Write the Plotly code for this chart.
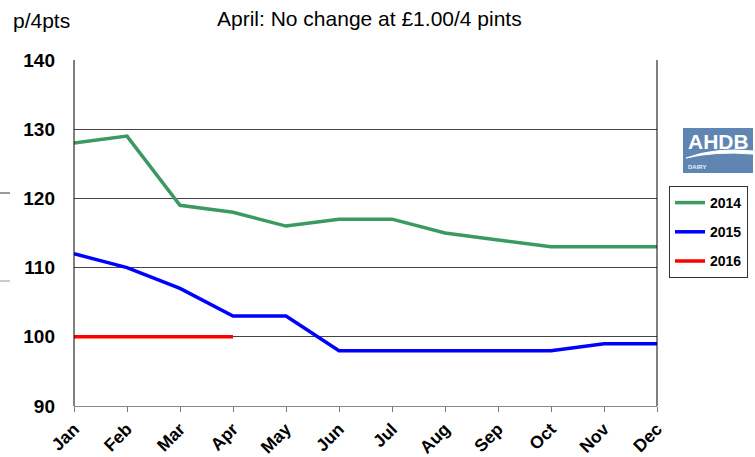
import plotly.graph_objects as go

months = ["Jan", "Feb", "Mar", "Apr", "May", "Jun", "Jul", "Aug", "Sep", "Oct", "Nov", "Dec"]
y2014 = [128, 129, 119, 118, 116, 117, 117, 115, 114, 113, 113, 113]
y2015 = [112, 110, 107, 103, 103, 98, 98, 98, 98, 98, 99, 99]
y2016 = [100, 100, 100, 100]
y_ticks = [90, 100, 110, 120, 130, 140]

FONT = "Liberation Sans, Arial"
W, H = 755, 457
L, R, T, B = 74, 98, 60, 51
PW, PH = W - L - R, H - T - B


def px(x):
    return (x - L) / PW


def py(y):
    return (H - B - y) / PH


fig = go.Figure()
series = [("2014", y2014, "#3a9a62"), ("2015", y2015, "#0000ff"), ("2016", y2016, "#ff0000")]
for name, vals, col in series:
    fig.add_trace(go.Scatter(x=months[:len(vals)], y=vals, mode="lines", name=name,
                             legendgroup=name,
                             line=dict(color=col, width=3.5)))

fig.update_layout(
    width=W, height=H,
    margin=dict(l=L, r=R, t=T, b=B, autoexpand=False),
    plot_bgcolor="white", paper_bgcolor="white",
    font=dict(family=FONT, color="black"),
    showlegend=True,
    legend=dict(x=px(669), y=py(186), xanchor="left", yanchor="top",
                bordercolor="#333", borderwidth=1, bgcolor="white",
                font=dict(size=14, family=FONT, color="black", weight="bold"),
                tracegroupgap=8, itemwidth=30),
    xaxis=dict(type="category", range=[0, 11], tickangle=-45,
               tickfont=dict(size=17.5, family=FONT, weight="bold"),
               ticks="outside", ticklen=5, tickcolor="#777", tickwidth=1,
               showline=True, linecolor="#888", linewidth=1,
               showgrid=False, zeroline=False),
    yaxis=dict(range=[90, 140], tickvals=y_ticks,
               tickfont=dict(size=19, family=FONT, weight="bold"),
               showgrid=True, gridcolor="#444", gridwidth=1,
               showline=False, zeroline=False, ticks="", ticklabelstandoff=18),
)

# left and right frame lines
fig.add_shape(type="line", xref="paper", yref="paper", x0=0, x1=0, y0=0, y1=1,
              line=dict(color="black", width=1))
fig.add_shape(type="line", xref="paper", yref="paper", x0=1, x1=1, y0=0, y1=1,
              line=dict(color="black", width=1))

# small stray marks at left edge
fig.add_shape(type="line", xref="paper", yref="paper", x0=px(0), x1=px(10),
              y0=py(193), y1=py(193), line=dict(color="#333", width=1))
fig.add_shape(type="line", xref="paper", yref="paper", x0=px(0), x1=px(10),
              y0=py(281), y1=py(281), line=dict(color="#999", width=1))

# AHDB logo
fig.add_shape(type="rect", xref="paper", yref="paper", x0=px(683), x1=px(753),
              y0=py(173), y1=py(128), fillcolor="#5f86b2", line=dict(width=0))
fig.add_shape(type="path", xref="paper", yref="paper",
              path=f"M {px(686)},{py(158)} Q {px(715)},{py(147)} {px(753)},{py(151)}"
                   f" L {px(753)},{py(154)} Q {px(715)},{py(151)} {px(686)},{py(158)} Z",
              fillcolor="white", line=dict(color="white", width=1))
fig.add_annotation(xref="paper", yref="paper", x=px(718), y=py(141),
                   xanchor="center", yanchor="middle",
                   text="<b>AHDB</b>", showarrow=False,
                   font=dict(size=21, color="white", family=FONT))
fig.add_annotation(xref="paper", yref="paper", x=px(686), y=py(167),
                   xanchor="left", yanchor="middle", text="<b>DAIRY</b>", showarrow=False,
                   font=dict(size=6, color="#e8eef5", family=FONT))

# title and unit label
fig.add_annotation(xref="paper", yref="paper", x=px(369), y=py(18),
                   xanchor="center", yanchor="middle",
                   text="April: No change at £1.00/4 pints", showarrow=False,
                   font=dict(size=21, family=FONT))
fig.add_annotation(xref="paper", yref="paper", x=px(11), y=py(21),
                   xanchor="left", yanchor="middle", text="p/4pts", showarrow=False,
                   font=dict(size=21, family=FONT))

fig.write_html("out.html", config={"displayModeBar": False},
               post_script="document.body.style.margin='0';document.documentElement.style.overflow='hidden';")
